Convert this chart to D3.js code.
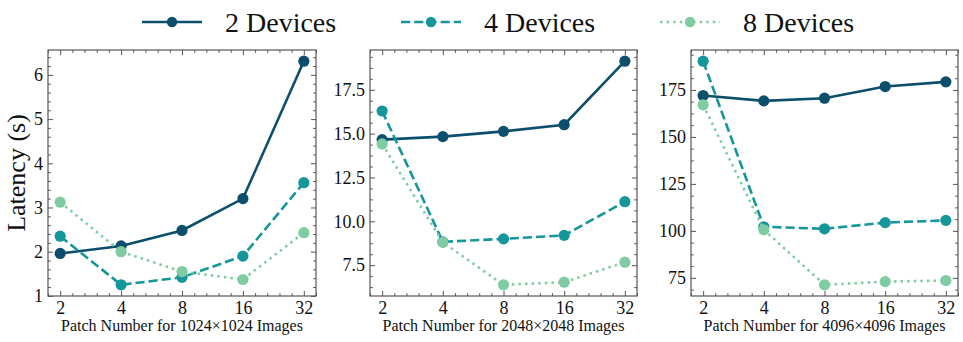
<!DOCTYPE html>
<html lang="en">

<head>
    <meta charset="utf-8">
    <style>
        body { margin: 0; background: #fff; }
        text { font-family: "Liberation Serif", "Times New Roman", serif; fill: #111; }
    </style>
</head>

<body>
    <script type='text/javascript' src='https://d3js.org/d3.v7.min.js'></script>

    <script>
        // patch counts on the x axis
        var patches = [2, 4, 8, 16, 32];

        var seriesNames = ["2 Devices", "4 Devices", "8 Devices"];
        var panelLabels = ["Patch Number for 1024\u00d71024 Images",
                           "Patch Number for 2048\u00d72048 Images",
                           "Patch Number for 4096\u00d74096 Images"];

        // latency (s)
        var lat1024_2 = [1.96, 2.13, 2.48, 3.20, 6.31];
        var lat1024_4 = [2.35, 1.25, 1.42, 1.90, 3.56];
        var lat1024_8 = [3.12, 2.00, 1.55, 1.37, 2.43];

        var lat2048_2 = [14.66, 14.83, 15.13, 15.51, 19.13];
        var lat2048_4 = [16.29, 8.83, 9.00, 9.20, 11.12];
        var lat2048_8 = [14.41, 8.80, 6.38, 6.53, 7.67];

        var lat4096_2 = [172.0, 169.2, 170.6, 176.8, 179.3];
        var lat4096_4 = [190.3, 102.2, 101.1, 104.4, 105.6];
        var lat4096_8 = [167.1, 100.6, 71.3, 73.0, 73.6];

        var yTicks1 = [1, 2, 3, 4, 5, 6];
        var yTicks2 = [7.5, 10.0, 12.5, 15.0, 17.5];
        var yTicks3 = [75, 100, 125, 150, 175];

        var panels = [
            { series: [lat1024_2, lat1024_4, lat1024_8], ticks: yTicks1, fmt: d3.format("d"), x0: 48, x1: 316 },
            { series: [lat2048_2, lat2048_4, lat2048_8], ticks: yTicks2, fmt: d3.format(".1f"), x0: 370, x1: 637 },
            { series: [lat4096_2, lat4096_4, lat4096_8], ticks: yTicks3, fmt: d3.format("d"), x0: 691, x1: 958 }
        ];

        var colors = ["#0b4f6c", "#15969b", "#7fcca3"];
        var dashes = [null, "9.2,4", "2.5,4.1"];

        var width = 963, height = 342;
        var plotTop = 50, plotBottom = 296;
        var frameColor = "#555";

        var svg = d3.select("body").append("svg")
            .attr("width", width)
            .attr("height", height);

        // minor step like matplotlib's AutoMinorLocator
        function minorStep(step) {
            var e = Math.pow(10, Math.floor(Math.log10(step)));
            var m = Math.round(step / e * 100) / 100;
            var ndiv = (m === 1 || m === 5 || m === 10) ? 5 : 4;
            return step / ndiv;
        }

        panels.forEach(function (p, pi) {
            var g = svg.append("g");

            var x = d3.scaleLog().base(2)
                .domain([Math.pow(2, 0.8), Math.pow(2, 5.2)])
                .range([p.x0, p.x1]);

            var all = d3.merge(p.series);
            var lo = d3.min(all), hi = d3.max(all), pad = (hi - lo) * 0.05;
            var y = d3.scaleLinear()
                .domain([lo - pad, hi + pad])
                .range([plotBottom, plotTop]);

            var minorX = d3.range(4, 27)
                .filter(function (k) { return k % 5 !== 0; })
                .map(function (k) { return Math.pow(2, k * 0.2); });

            var ms = minorStep(p.ticks[1] - p.ticks[0]);
            var dom = y.domain();
            var minorY = d3.range(Math.ceil(dom[0] / ms) * ms, dom[1], ms)
                .filter(function (v) { return !p.ticks.some(function (t) { return Math.abs(t - v) < 1e-6; }); });

            // frame
            g.append("rect")
                .attr("x", p.x0).attr("y", plotTop)
                .attr("width", p.x1 - p.x0).attr("height", plotBottom - plotTop)
                .attr("fill", "none").attr("stroke", frameColor).attr("stroke-width", 1.2);

            function axis(gen, tx, ty, vals, size, labels) {
                var a = g.append("g")
                    .attr("transform", "translate(" + tx + "," + ty + ")")
                    .call(gen.tickValues(vals).tickSizeInner(-size).tickSizeOuter(0)
                        .tickPadding(labels ? 5 : 0)
                        .tickFormat(labels ? labels : ""));
                a.select(".domain").remove();
                a.selectAll("line").attr("stroke", frameColor).attr("stroke-width", 1);
                a.selectAll("text").attr("font-size", 18).attr("font-family", "Liberation Serif").attr("fill", "#111");
                return a;
            }

            axis(d3.axisBottom(x), 0, plotBottom, patches, 5, d3.format("d"));
            axis(d3.axisBottom(x), 0, plotBottom, minorX, 2.8, null);
            axis(d3.axisTop(x), 0, plotTop, patches, 5, null);
            axis(d3.axisTop(x), 0, plotTop, minorX, 2.8, null);
            axis(d3.axisLeft(y), p.x0, 0, p.ticks, 5, p.fmt);
            axis(d3.axisLeft(y), p.x0, 0, minorY, 2.8, null);
            axis(d3.axisRight(y), p.x1, 0, p.ticks, 5, null);
            axis(d3.axisRight(y), p.x1, 0, minorY, 2.8, null);

            var line = d3.line()
                .x(function (d, i) { return x(patches[i]); })
                .y(function (d) { return y(d); });

            p.series.forEach(function (vals, si) {
                g.append("path")
                    .datum(vals)
                    .attr("d", line)
                    .attr("fill", "none")
                    .attr("stroke", colors[si])
                    .attr("stroke-width", 2.6)
                    .attr("stroke-dasharray", dashes[si]);
                g.selectAll(".m" + si)
                    .data(vals)
                    .enter()
                    .append("circle")
                    .attr("class", "m" + si)
                    .attr("cx", function (d, i) { return x(patches[i]); })
                    .attr("cy", function (d) { return y(d); })
                    .attr("r", 5.6)
                    .attr("fill", colors[si]);
            });

            g.append("text")
                .attr("x", (p.x0 + p.x1) / 2)
                .attr("y", 331)
                .attr("text-anchor", "middle")
                .attr("font-size", 16)
                .text(panelLabels[pi]);
        });

        svg.append("text")
            .attr("transform", "translate(25," + (plotTop + plotBottom) / 2 + ") rotate(-90)")
            .attr("text-anchor", "middle")
            .attr("font-size", 26)
            .text("Latency (s)");

        // legend
        var legendX = [142, 401, 660];
        var legend = svg.selectAll(".legend")
            .data(seriesNames)
            .enter()
            .append("g")
            .attr("class", "legend")
            .attr("transform", function (d, i) { return "translate(" + legendX[i] + ",22)"; });

        legend.append("line")
            .attr("x1", 0).attr("x2", 60)
            .attr("stroke", function (d, i) { return colors[i]; })
            .attr("stroke-width", 2.6)
            .attr("stroke-dasharray", function (d, i) { return dashes[i]; });
        legend.append("circle")
            .attr("cx", 30).attr("r", 5.2)
            .attr("fill", function (d, i) { return colors[i]; });
        legend.append("text")
            .attr("x", 83)
            .attr("dy", "0.35em")
            .attr("font-size", 28)
            .text(function (d) { return d; });
    </script>

</body>
